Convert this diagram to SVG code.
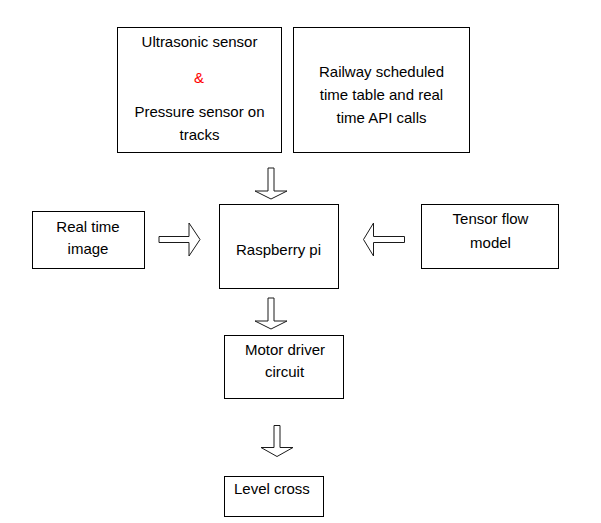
<svg xmlns="http://www.w3.org/2000/svg" width="601" height="523" viewBox="0 0 601 523">
<style>
.box{fill:#fff;stroke:#000;stroke-width:1}
.arr{fill:#fff;stroke:#1a1a1a;stroke-width:1;stroke-linejoin:miter}
text{font-family:"Liberation Sans",Arial,sans-serif;font-size:15px;fill:#000}
.c{text-anchor:middle}
.red{fill:#ff0000}
</style>
<rect width="601" height="523" fill="#fff"/>
<g id="sensors">
<rect class="box" x="117.5" y="27.5" width="164" height="125"/>
<text class="c" x="199.5" y="47">Ultrasonic sensor</text>
<text class="c red" x="199" y="83">&amp;</text>
<text class="c" x="199.5" y="117">Pressure sensor on</text>
<text class="c" x="199.5" y="140">tracks</text>
</g>
<g id="railway">
<rect class="box" x="293.5" y="27.5" width="176" height="125"/>
<text class="c" x="381.5" y="77">Railway scheduled</text>
<text class="c" x="381.5" y="100">time table and real</text>
<text class="c" x="381.5" y="123">time API calls</text>
</g>
<g id="realtime">
<rect class="box" x="32.5" y="211.5" width="112" height="57"/>
<text class="c" x="88" y="232">Real time</text>
<text class="c" x="88" y="254">image</text>
</g>
<g id="raspberry">
<rect class="box" x="219.5" y="204.5" width="119" height="84"/>
<text class="c" x="278.5" y="255">Raspberry pi</text>
</g>
<g id="tensorflow">
<rect class="box" x="421.5" y="204.5" width="137" height="64"/>
<text class="c" x="490.5" y="224">Tensor flow</text>
<text class="c" x="490.5" y="248">model</text>
</g>
<g id="motor">
<rect class="box" x="224.5" y="335.5" width="119" height="63"/>
<text class="c" x="285" y="355">Motor driver</text>
<text class="c" x="284.5" y="377">circuit</text>
</g>
<g id="levelcross">
<rect class="box" x="224.5" y="476.5" width="99" height="40"/>
<text x="234" y="494">Level cross</text>
</g>
<g id="connectors">
<polygon class="arr" points="268,168 274,168 274,191 287,191 271,199 255,191 268,191"/>
<polygon class="arr" points="159,236.5 189,236.5 189,223 200,239.5 189,256 189,242.5 159,242.5"/>
<polygon class="arr" points="404.5,236.5 373.5,236.5 373.5,223 363.5,239.5 373.5,256 373.5,242.5 404.5,242.5"/>
<polygon class="arr" points="268,298 274,298 274,321 287,321 271,329 255,321 268,321"/>
<polygon class="arr" points="274,425.5 280,425.5 280,447.5 293,447.5 277,456.5 261,447.5 274,447.5"/>
</g>
</svg>
